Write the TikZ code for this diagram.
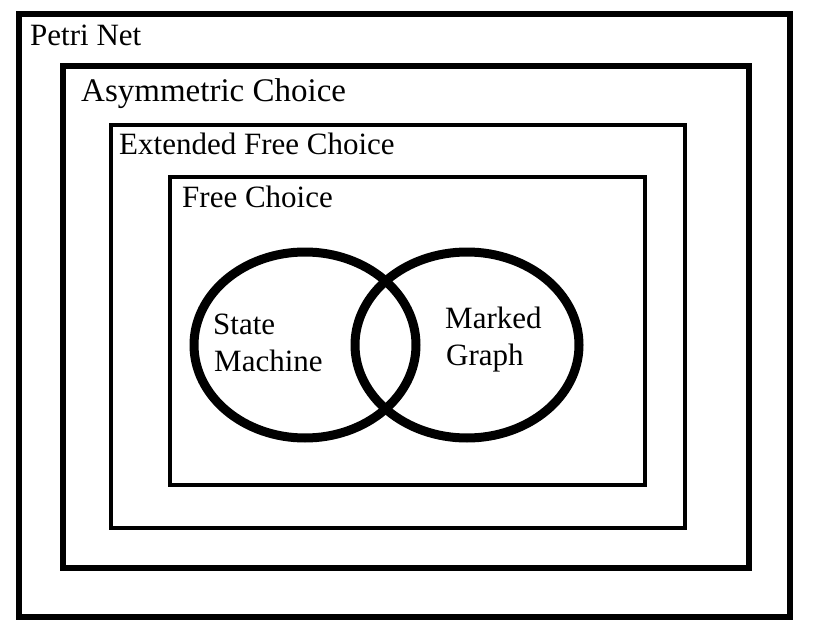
\documentclass[tikz,border=0pt]{standalone}
\usepackage{fontspec}
\setmainfont{Liberation Serif}
\begin{document}
\begin{tikzpicture}[x=1pt,y=-1pt,
  lbl/.style={anchor=base west,inner sep=0pt,font=\fontsize{31}{36}\selectfont},
  biglbl/.style={anchor=base west,inner sep=0pt,font=\fontsize{33}{38}\selectfont},
  thickbox/.style={draw=black,line width=6pt},
  thinbox/.style={draw=black,line width=4pt},
  venn/.style={draw=black,line width=9pt}]
\useasboundingbox (0,0) rectangle (814,642);
\fill[white] (0,0) rectangle (814,642);
% nested classes
\draw[thickbox] (19,14) rectangle (790,617);
\draw[thickbox] (63,66) rectangle (749,568);
\draw[thinbox] (111,125) rectangle (685,528);
\draw[thinbox] (170,177) rectangle (645,485);
% Venn ellipses
\draw[venn] (305,345) ellipse [x radius=111, y radius=93];
\draw[venn] (467,345) ellipse [x radius=112, y radius=93];
% labels
\node[lbl] (pn) at (30,46) {Petri Net};
\node[biglbl] (ac) at (81,101) {Asymmetric Choice};
\node[lbl] (efc) at (119,154) {Extended Free Choice};
\node[lbl] (fc) at (182,207) {Free Choice};
\node[lbl] (sm1) at (213,334) {State};
\node[lbl] (sm2) at (214,371) {Machine};
\node[lbl] (mg1) at (445,328) {Marked};
\node[lbl] (mg2) at (446,365) {Graph};
\end{tikzpicture}
\end{document}
